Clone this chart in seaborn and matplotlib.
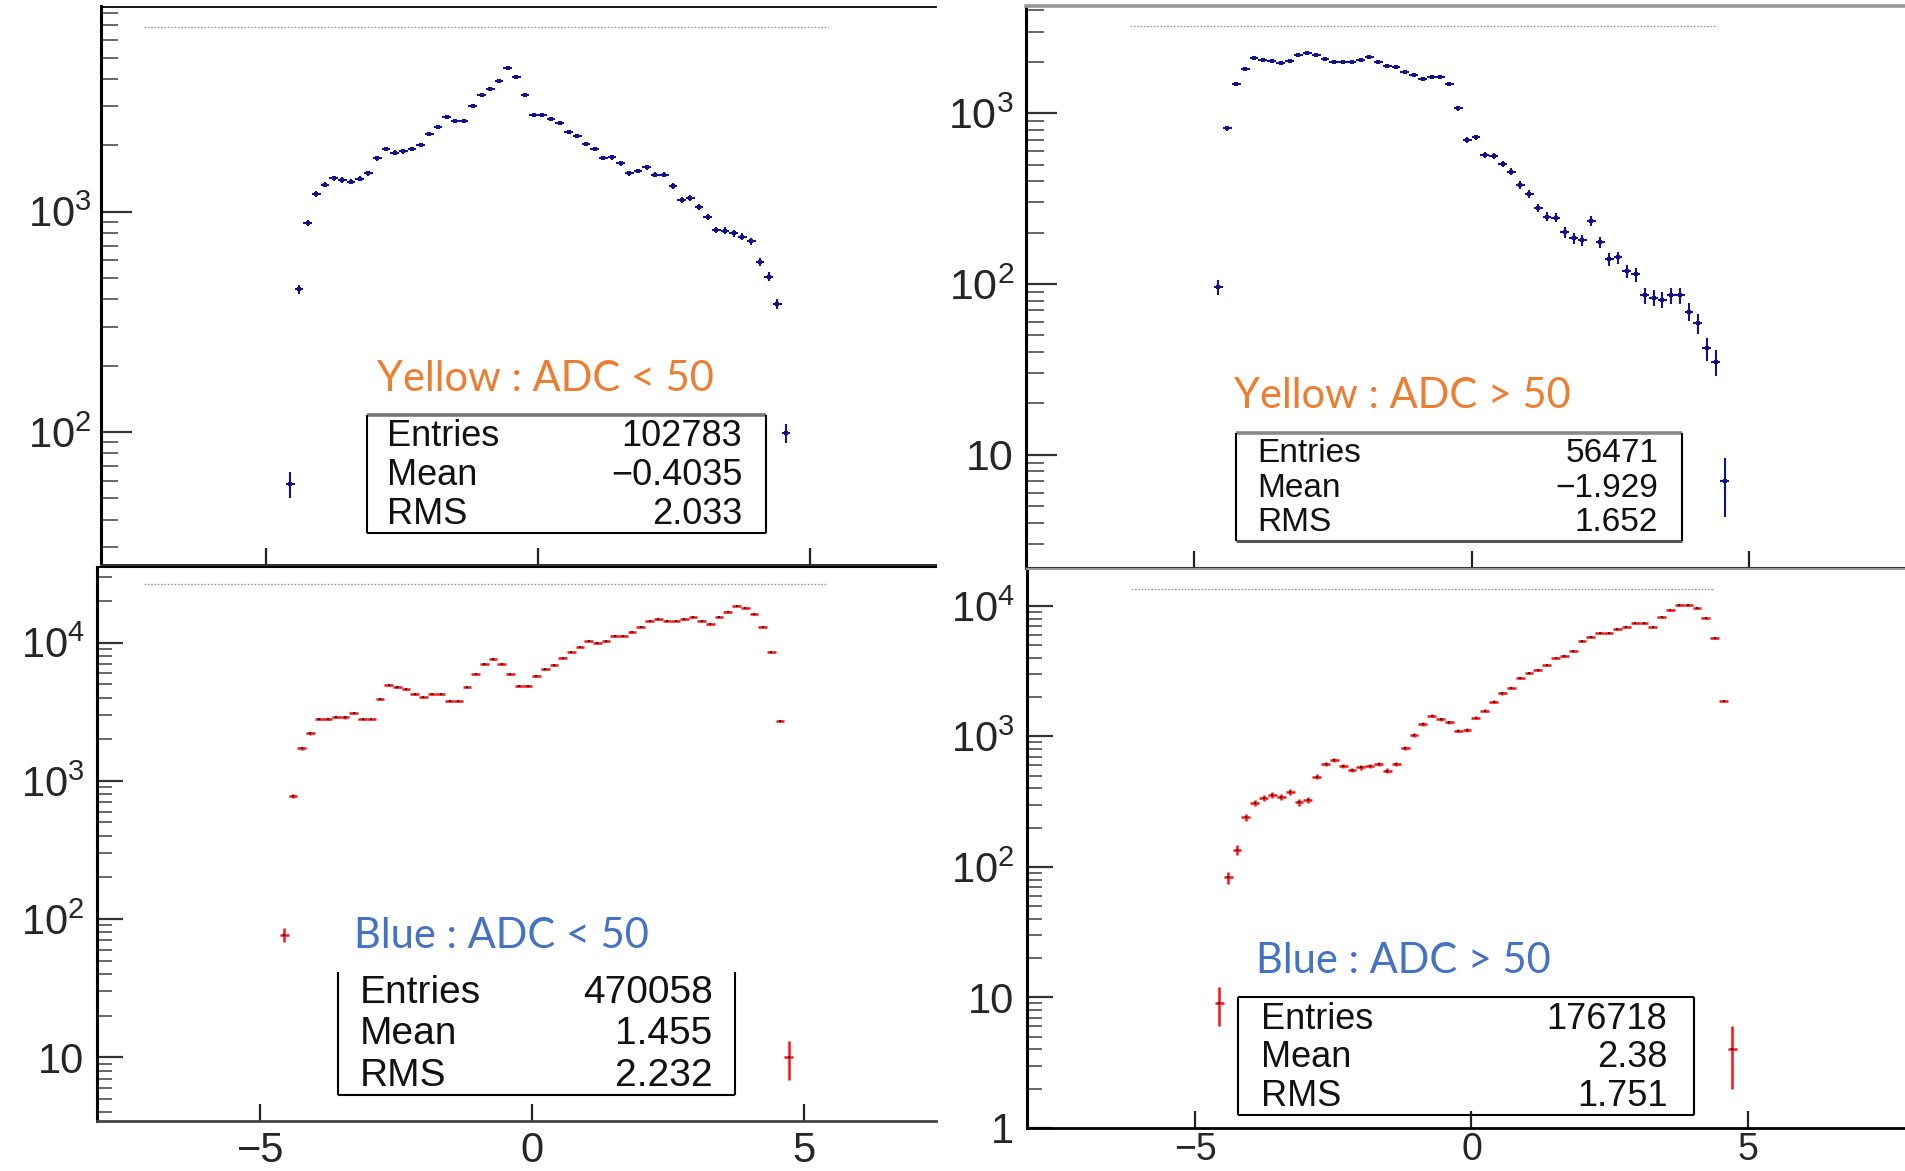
import numpy as np
import matplotlib
matplotlib.use("Agg")
import matplotlib.pyplot as plt
from matplotlib.lines import Line2D
from matplotlib.ticker import LogLocator, NullFormatter, FuncFormatter, FixedLocator
import seaborn as sns

# ---------------------------------------------------------------------------
# Histogram binning (0.16 wide bins)
bin_edges = np.linspace(-4.64, 4.80, 60)
bin_centres = 0.5 * (bin_edges[:-1] + bin_edges[1:])
half_width = 0.5 * (bin_edges[1] - bin_edges[0])

# Bin contents
yellow_adc_low = [58, 445, 888, 1202, 1324, 1416, 1391, 1367, 1410, 1492, 1746, 1929,
                  1850, 1874, 1923, 2000, 2244, 2428, 2679, 2578, 2578, 3014, 3381,
                  3590, 3926, 4497, 4093, 3381, 2735, 2735, 2623, 2531, 2304, 2195,
                  2019, 1923, 1750, 1763, 1656, 1492, 1528, 1588, 1470, 1470, 1307,
                  1129, 1153, 1052, 942, 825, 820, 797, 769, 733, 593, 507, 380, 99]
yellow_adc_high = [96, 815, 1474, 1804, 2093, 2046, 2018, 1965, 2018, 2188, 2238, 2188,
                   2073, 1983, 1983, 1983, 2046, 2138, 1983, 1893, 1853, 1746, 1671,
                   1583, 1620, 1620, 1474, 1067, 696, 722, 569, 561, 504, 454, 379,
                   336, 279, 248, 245, 201, 185, 181, 234, 175, 140, 143, 119, 114,
                   86, 83, 81, 86, 86, 69, 59, 42, 35, 7]
blue_adc_low = [77, 774, 1719, 2207, 2789, 2789, 2897, 2880, 3111, 2789, 2789, 3909,
                4934, 4798, 4616, 4226, 4062, 4247, 4226, 3780, 3780, 4747, 5894, 7000,
                7606, 7000, 5894, 4878, 4878, 5780, 6440, 6887, 7775, 8505, 9340,
                10320, 9990, 10270, 11220, 11220, 11870, 13030, 14400, 14820, 14400,
                14400, 14820, 15240, 14400, 13560, 15400, 16730, 18490, 17880, 16100,
                13030, 8505, 2710, 10]
blue_adc_high = [9, 83, 135, 240, 308, 336, 356, 345, 377, 313, 326, 491, 615, 660, 593,
                 553, 580, 593, 615, 546, 615, 811, 1026, 1245, 1442, 1353, 1284, 1106,
                 1118, 1393, 1575, 1847, 2142, 2340, 2791, 3083, 3231, 3531, 3972,
                 4136, 4543, 5393, 5820, 6243, 6243, 6628, 6940, 7370, 7370, 6940,
                 8190, 9318, 10180, 10180, 9603, 8048, 5652, 1870, 4]

stat_names = ["Entries", "Mean", "RMS"]
yellow_low_stats = ["102783", "\u22120.4035", "2.033"]
yellow_high_stats = ["56471", "\u22121.929", "1.652"]
blue_low_stats = ["470058", "1.455", "2.232"]
blue_high_stats = ["176718", "2.38", "1.751"]

panel_titles = ["Yellow : ADC < 50", "Yellow : ADC > 50",
                "Blue : ADC < 50", "Blue : ADC > 50"]
x_ticks = [-5, 0, 5]

# ---------------------------------------------------------------------------
sns.set_theme(style="ticks")
plt.rcParams["font.family"] = ["Liberation Sans", "DejaVu Sans"]
plt.rcParams["mathtext.fontset"] = "custom"
plt.rcParams["mathtext.rm"] = "Liberation Sans"
plt.rcParams["axes.unicode_minus"] = True

W, H = 1906, 1171
fig = plt.figure(figsize=(W / 100, H / 100), dpi=100)
fig.patch.set_facecolor("white")

NAVY = "#12128C"
RED = "#FF1010"
ORANGE = "#ED7D31"
BLUE = "#4472C4"


def fx(x):
    return x / W


def fy(y):
    return 1 - y / H


def log_label(v, pos):
    e = int(round(np.log10(v)))
    if e == 0:
        return "1"
    if e == 1:
        return "10"
    return r"$\mathregular{10^{%d}}$" % e


def frame_line(x0, y0, x1, y1, color, lw):
    fig.add_artist(Line2D([fx(x0), fx(x1)], [fy(y0), fy(y1)], color=color, lw=lw,
                          transform=fig.transFigure, solid_capstyle="butt"))


panels = [
    dict(counts=yellow_adc_low, stats=yellow_low_stats, title=panel_titles[0],
         rect=(101, 6.5, 936, 565), xlim=(-8.04, 7.32), ylim=(24.9, 8520),
         bar=NAVY, centre=NAVY, ms=6, elw=1.5,
         top_spine=("black", 1.3), bottom_spine=("#333333", 1.5),
         ylab=30, ypad=7, xlabels=False, xlab=30, xpad=7, maj=22, mnr=12,
         dots=(0.052, 0.871, 0.964),
         title_pos=(377, 391), title_color=ORANGE, title_size=30,
         box=(367, 414.5, 766, 532.7), box_edges=dict(top=("#777777", 2.6), left=("black", 1.5),
                                                     right=("black", 1.5), bottom=("black", 1.5)),
         text_x=(386.6, 742.3), text_y=(446, 485, 523.6), text_size=26),
    dict(counts=yellow_adc_high, stats=yellow_high_stats, title=panel_titles[1],
         rect=(1026.5, 5.5, 1906, 568), xlim=(-8.02, 7.83), ylim=(2.18, 4262),
         bar=NAVY, centre=NAVY, ms=6, elw=1.5,
         top_spine=("#999999", 2.6), bottom_spine=("#333333", 1.5),
         ylab=31, ypad=9, xlabels=False, xlab=30, xpad=7, maj=22, mnr=13,
         dots=(0.118, 0.785, 0.963),
         title_pos=(1234, 408.5), title_color=ORANGE, title_size=30,
         box=(1236, 433, 1682.5, 540.5), box_edges=dict(top=("#888888", 2.6), left=("black", 1.5),
                                                       right=("black", 1.5), bottom=("#555555", 2.2)),
         text_x=(1257.3, 1658.3), text_y=(461.7, 496.7, 531), text_size=24),
    dict(counts=blue_adc_low, stats=blue_low_stats, title=panel_titles[2],
         rect=(97, 567, 936, 1121), xlim=(-8.005, 7.43), ylim=(3.46, 35270),
         bar=RED, centre="#222222", ms=2.5, elw=1.8,
         top_spine=("black", 1.5), bottom_spine=("#444444", 2.0),
         ylab=30, ypad=9, xlabels=True, xlab=30, xpad=7, maj=18.4, mnr=10.8,
         dots=(0.056, 0.870, 0.970),
         title_pos=(354.5, 948), title_color=BLUE, title_size=30,
         box=(338.3, 972, 735, 1094.7), box_edges=dict(left=("black", 1.5),
                                                       right=("black", 1.5), bottom=("black", 1.5)),
         text_x=(360, 712.7), text_y=(1003.3, 1044, 1086), text_size=28),
    dict(counts=blue_adc_high, stats=blue_high_stats, title=panel_titles[3],
         rect=(1027, 568.6, 1906, 1127.8), xlim=(-8.04, 7.86), ylim=(1.0, 19350),
         bar=RED, centre="#222222", ms=2.5, elw=1.8,
         top_spine=("#999999", 1.5), bottom_spine=("black", 2.0),
         ylab=30, ypad=9, xlabels=True, xlab=27, xpad=3, maj=18.7, mnr=10.8,
         dots=(0.118, 0.780, 0.963),
         title_pos=(1255.5, 973.2), title_color=BLUE, title_size=30,
         box=(1237.7, 997.3, 1693.7, 1115.3), box_edges=dict(top=("black", 1.5), left=("black", 1.5),
                                                            right=("black", 1.5), bottom=("black", 1.5)),
         text_x=(1260.7, 1667.3), text_y=(1029, 1066.7, 1105.6), text_size=26),
]

for p in panels:
    x0, y0, x1, y1 = p["rect"]
    ax = fig.add_axes([fx(x0), fy(y1), (x1 - x0) / W, (y1 - y0) / H])
    ax.set_facecolor("white")
    ax.set_yscale("log")

    counts = np.asarray(p["counts"], dtype=float)
    xs = bin_centres[:len(counts)]

    # statistical error crosses (bin width horizontally, sqrt(N) vertically)
    ax.errorbar(xs, counts, xerr=half_width, yerr=np.sqrt(counts), fmt="none",
                ecolor=p["bar"], elinewidth=p["elw"], capsize=0, zorder=2)
    sns.scatterplot(x=xs, y=counts, ax=ax, color=p["centre"], marker="s", s=p["ms"],
                    linewidth=0, zorder=3, legend=False)

    ax.set_xlim(*p["xlim"])
    ax.set_ylim(*p["ylim"])
    ax.set_xlabel("")
    ax.set_ylabel("")
    ax.grid(False)

    ax.xaxis.set_major_locator(FixedLocator(x_ticks))
    ax.xaxis.set_minor_locator(FixedLocator([]))
    ax.yaxis.set_major_locator(LogLocator(base=10, numticks=12))
    ax.yaxis.set_minor_locator(LogLocator(base=10, subs=np.arange(2, 10), numticks=12))
    ax.yaxis.set_major_formatter(FuncFormatter(log_label))
    ax.yaxis.set_minor_formatter(NullFormatter())

    ax.tick_params(axis="y", which="major", direction="in", length=p["maj"], width=1.6,
                   color="#333333", labelsize=p["ylab"], pad=p["ypad"], left=True, right=False)
    ax.tick_params(axis="y", which="minor", direction="in", length=p["mnr"], width=1.4,
                   color="#666666", left=True, right=False)
    ax.tick_params(axis="x", which="major", direction="in", length=12, width=1.6,
                   color="#222222", labelsize=p["xlab"], pad=p["xpad"],
                   labelbottom=p["xlabels"], top=False, bottom=True)

    ax.spines["right"].set_visible(False)
    ax.spines["left"].set_color("black")
    ax.spines["left"].set_linewidth(2.2)
    ax.spines["top"].set_color(p["top_spine"][0])
    ax.spines["top"].set_linewidth(p["top_spine"][1])
    ax.spines["bottom"].set_color(p["bottom_spine"][0])
    ax.spines["bottom"].set_linewidth(p["bottom_spine"][1])

    # faint title strip along the top of the frame
    d0, d1, dy = p["dots"]
    ax.plot([d0, d1], [dy, dy], transform=ax.transAxes, color="#9a9a9a",
            lw=1.0, ls=(0, (1.2, 1.2)), zorder=1)

    # statistics box
    bx0, by0, bx1, by1 = p["box"]
    edges = p["box_edges"]
    if "top" in edges:
        frame_line(bx0, by0, bx1, by0, *edges["top"])
    if "bottom" in edges:
        frame_line(bx0, by1, bx1, by1, *edges["bottom"])
    if "left" in edges:
        frame_line(bx0, by0, bx0, by1, *edges["left"])
    if "right" in edges:
        frame_line(bx1, by0, bx1, by1, *edges["right"])
    tx_l, tx_r = p["text_x"]
    for name, val, ty in zip(stat_names, p["stats"], p["text_y"]):
        fig.text(fx(tx_l), fy(ty), name, ha="left", va="baseline",
                 fontsize=p["text_size"], color="#111111")
        fig.text(fx(tx_r), fy(ty), val, ha="right", va="baseline",
                 fontsize=p["text_size"], color="#111111")

    # coloured selection label
    tx, ty = p["title_pos"]
    fig.text(fx(tx), fy(ty), p["title"], ha="left", va="baseline",
             fontsize=p["title_size"], color=p["title_color"], family=["Lato", "DejaVu Sans"])

fig.savefig("out.png", dpi=100, facecolor="white")
